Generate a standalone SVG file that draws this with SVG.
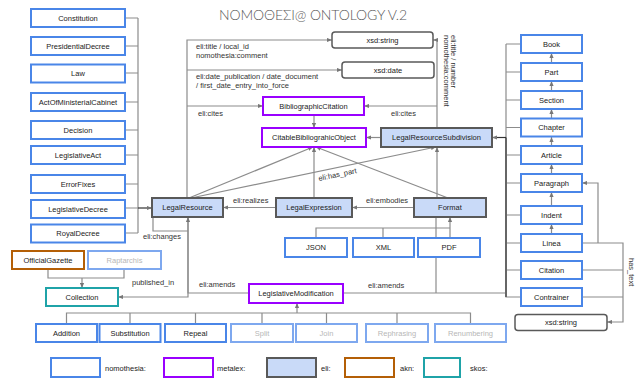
<svg xmlns="http://www.w3.org/2000/svg" width="642" height="379" viewBox="0 0 642 379">
<style>
text{font-family:"Liberation Sans",Arial,sans-serif;font-size:7.5px;fill:#222}
.n rect{fill:#fff;stroke:#4a86e8;stroke-width:2}
.nl rect{fill:#fff;stroke:#7ea8ef;stroke-width:2}
.nl text{fill:#b7b7b7}
.m rect{fill:#fff;stroke:#9900ff;stroke-width:2}
.e rect{fill:#c9daf8;stroke:#595959;stroke-width:2}
.a rect{fill:#fff;stroke:#b45f06;stroke-width:2}
.s rect{fill:#fff;stroke:#1fa3a8;stroke-width:2}
.x rect{fill:#fff;stroke:#595959;stroke-width:1.5}
.c text{text-anchor:middle}
#edges path{fill:none;stroke:#8c8c8c;stroke-width:1.2}
#edges path.d{stroke:#333}
#edges path.k{stroke:#666;stroke-width:2}
.lbl{fill:#333}
</style>
<defs>
<marker id="ar" viewBox="0 0 6 6" refX="6" refY="3" markerWidth="5" markerHeight="5" orient="auto" markerUnits="userSpaceOnUse"><path d="M0,0.5 L6,3 L0,5.5 z" fill="#777"/></marker>
</defs>

<text x="313" y="20" text-anchor="middle" textLength="188" style="font-family:Lato,'Open Sans',sans-serif;font-weight:300;font-size:14px;fill:#595959">ΝΟΜΟΘΕΣΙ@ ONTOLOGY V.2</text>

<g id="edges">
<path d="M125,18H138M125,46H138M125,73H138M125,102H138M125,130H138M125,155H138M125,184H138M125,208H138M125,233H138M138,18V233"/>
<path class="d" d="M138,208H152" marker-end="url(#ar)"/>
<path d="M187,198V40H332" marker-end="url(#ar)"/>
<path d="M187,70H342" marker-end="url(#ar)"/>
<path d="M187,106H263" marker-end="url(#ar)"/>
<path d="M189,198L313,147" marker-end="url(#ar)"/>
<path d="M191,198L436,147" marker-end="url(#ar)"/>
<path d="M314,198V147" marker-end="url(#ar)"/>
<path d="M314,115V128" marker-end="url(#ar)"/>
<path d="M448,198L316,147" marker-end="url(#ar)"/>
<path d="M437,198V147" marker-end="url(#ar)"/>
<path d="M437,128V40H433" marker-end="url(#ar)"/>
<path d="M437,106H364" marker-end="url(#ar)"/>
<path d="M381,137.5H366" marker-end="url(#ar)"/>
<path d="M276,207.5H223" marker-end="url(#ar)"/>
<path d="M414,207.5H352" marker-end="url(#ar)"/>
<path d="M316,238V228H450M383,238V228"/>
<path d="M450,238V217" marker-end="url(#ar)"/>
<path d="M436,217V293"/>
<path d="M188,217V297H118" marker-end="url(#ar)"/>
<path d="M249,293H188V217" marker-end="url(#ar)"/>
<path d="M153,217V231H188"/>
<path d="M48,269V278H124V269"/>
<path d="M82,278V288" marker-end="url(#ar)"/>
<path d="M343,293H506"/>
<path d="M66.5,324V313H470.5V324M130,324V313M195.5,324V313M262,324V313M326.5,324V313M397,324V313"/>
<path d="M297,313V303" marker-end="url(#ar)"/>
<path d="M506,44V297H521M506,44H521M506,72H521M506,100H521M506,127.5H521M506,155H521M506,183H521M506,215H521M506,243H521M506,270H521"/>
<path class="k" d="M506,137.5V297"/>
<path class="d" d="M506,137.5H492" marker-end="url(#ar)"/>
<path d="M551.5,63V53" marker-end="url(#ar)"/>
<path d="M551.5,91V81" marker-end="url(#ar)"/>
<path d="M551.5,118V109" marker-end="url(#ar)"/>
<path d="M551.5,146V137" marker-end="url(#ar)"/>
<path d="M551.5,174V164" marker-end="url(#ar)"/>
<path d="M551.5,206V192" marker-end="url(#ar)"/>
<path d="M551.5,234V224" marker-end="url(#ar)"/>
<path d="M598,243V183H582" marker-end="url(#ar)"/>
<path d="M582,243H623V322H607" marker-end="url(#ar)"/>
<path d="M582,270H623M582,297H623"/>
<text class="lbl" x="196" y="49">eli:title / local_id</text>
<text class="lbl" x="196" y="58">nomothesia:comment</text>
<text class="lbl" x="196" y="79">eli:date_publication / date_document</text>
<text class="lbl" x="196" y="88">/ first_date_entry_into_force</text>
<text class="lbl" x="198" y="116">eli:cites</text>
<text class="lbl" x="391" y="116">eli:cites</text>
<text class="lbl" transform="translate(451,35) rotate(90)">eli:title / number</text>
<text class="lbl" transform="translate(443.5,35) rotate(90)">nomothesia:comment</text>
<text class="lbl" transform="translate(338,177) rotate(-11.6)" text-anchor="middle">eli:has_part</text>
<text class="lbl" x="233" y="203">eli:realizes</text>
<text class="lbl" x="366" y="203">eli:embodies</text>
<text class="lbl" x="143" y="239">eli:changes</text>
<text class="lbl" x="132" y="285">published_in</text>
<text class="lbl" x="199" y="287">eli:amends</text>
<text class="lbl" x="368" y="288">eli:amends</text>
<text class="lbl" transform="translate(629,258) rotate(90)">has_text</text>
</g>

<g id="Constitution" class="n c"><rect x="31" y="9" width="94" height="18"/><text x="78" y="20.7">Constitution</text></g>
<g id="PresidentialDecree" class="n c"><rect x="31" y="37" width="94" height="18"/><text x="78" y="48.7">PresidentialDecree</text></g>
<g id="Law" class="n c"><rect x="31" y="64.5" width="94" height="18"/><text x="78" y="76.2">Law</text></g>
<g id="ActOfMinisterialCabinet" class="n c"><rect x="31" y="93" width="94" height="18"/><text x="78" y="104.7">ActOfMinisterialCabinet</text></g>
<g id="Decision" class="n c"><rect x="31" y="121" width="94" height="18"/><text x="78" y="132.7">Decision</text></g>
<g id="LegislativeAct" class="n c"><rect x="31" y="146" width="94" height="18"/><text x="78" y="157.7">LegislativeAct</text></g>
<g id="ErrorFixes" class="n c"><rect x="31" y="175" width="94" height="18"/><text x="78" y="186.7">ErrorFixes</text></g>
<g id="LegislativeDecree" class="n c"><rect x="31" y="200" width="94" height="18"/><text x="78" y="211.7">LegislativeDecree</text></g>
<g id="RoyalDecree" class="n c"><rect x="31" y="224.5" width="94" height="18"/><text x="78" y="236.2">RoyalDecree</text></g>

<g id="xsd_string" class="x c"><rect x="332" y="32" width="101" height="16" rx="3"/><text x="382.5" y="42.7">xsd:string</text></g>
<g id="xsd_date" class="x c"><rect x="342" y="62" width="92" height="16" rx="3"/><text x="388" y="72.7">xsd:date</text></g>
<g id="xsd_string2" class="x c"><rect x="515" y="314.5" width="92" height="16" rx="3"/><text x="561" y="325.2">xsd:string</text></g>

<g id="BibliographicCitation" class="m c"><rect x="263" y="97" width="101" height="18"/><text x="313.5" y="108.7">BibliographicCitation</text></g>
<g id="CitableBibliograhicObject" class="m c"><rect x="262" y="128" width="104" height="19"/><text x="314" y="140.2">CitableBibliograhicObject</text></g>
<g id="LegalResourceSubdivision" class="e c"><rect x="381" y="128" width="111" height="19"/><text x="436.5" y="140.2">LegalResourceSubdivision</text></g>
<g id="LegalResource" class="e c"><rect x="152" y="198" width="71" height="19"/><text x="187.5" y="210.2">LegalResource</text></g>
<g id="LegalExpression" class="e c"><rect x="276" y="198" width="76" height="19"/><text x="314" y="210.2">LegalExpression</text></g>
<g id="Format" class="e c"><rect x="414" y="198" width="72" height="19"/><text x="450" y="210.2">Format</text></g>
<g id="JSON" class="n c"><rect x="285" y="238" width="62" height="19"/><text x="316" y="250.2">JSON</text></g>
<g id="XML" class="n c"><rect x="353" y="238" width="61" height="19"/><text x="383.5" y="250.2">XML</text></g>
<g id="PDF" class="n c"><rect x="418" y="238" width="62" height="19"/><text x="449" y="250.2">PDF</text></g>

<g id="OfficialGazette" class="a c"><rect x="12" y="251" width="72" height="18"/><text x="48" y="262.7">OfficialGazette</text></g>
<g id="Raptarchis" class="nl c"><rect x="88" y="251" width="73" height="18"/><text x="124.5" y="262.7">Raptarchis</text></g>
<g id="Collection" class="s c"><rect x="46" y="288" width="72" height="18"/><text x="82" y="299.7">Collection</text></g>
<g id="LegislativeModification" class="m c"><rect x="249" y="284" width="94" height="19"/><text x="296" y="296.2">LegislativeModification</text></g>

<g id="Addition" class="n c"><rect x="36" y="324" width="61" height="18"/><text x="66.5" y="335.7">Addition</text></g>
<g id="Substitution" class="n c"><rect x="99.5" y="324" width="61" height="18"/><text x="130" y="335.7">Substitution</text></g>
<g id="Repeal" class="n c"><rect x="165" y="324" width="61" height="18"/><text x="195.5" y="335.7">Repeal</text></g>
<g id="Split" class="nl c"><rect x="231" y="324" width="62" height="18"/><text x="262" y="335.7">Split</text></g>
<g id="Join" class="nl c"><rect x="296" y="324" width="61" height="18"/><text x="326.5" y="335.7">Join</text></g>
<g id="Rephrasing" class="nl c"><rect x="366" y="324" width="62" height="18"/><text x="397" y="335.7">Rephrasing</text></g>
<g id="Renumbering" class="nl c"><rect x="435" y="324" width="71" height="18"/><text x="470.5" y="335.7">Renumbering</text></g>

<g id="Book" class="n c"><rect x="521" y="35" width="61" height="18"/><text x="551.5" y="46.7">Book</text></g>
<g id="Part" class="n c"><rect x="521" y="63" width="61" height="18"/><text x="551.5" y="74.7">Part</text></g>
<g id="Section" class="n c"><rect x="521" y="91" width="61" height="18"/><text x="551.5" y="102.7">Section</text></g>
<g id="Chapter" class="n c"><rect x="521" y="118.5" width="61" height="18"/><text x="551.5" y="130.2">Chapter</text></g>
<g id="Article" class="n c"><rect x="521" y="146" width="61" height="18"/><text x="551.5" y="157.7">Article</text></g>
<g id="Paragraph" class="n c"><rect x="521" y="174" width="61" height="18"/><text x="551.5" y="185.7">Paragraph</text></g>
<g id="Indent" class="n c"><rect x="521" y="206" width="61" height="18"/><text x="551.5" y="217.7">Indent</text></g>
<g id="Linea" class="n c"><rect x="521" y="234" width="61" height="18"/><text x="551.5" y="245.7">Linea</text></g>
<g id="Citation" class="n c"><rect x="521" y="261" width="61" height="18"/><text x="551.5" y="272.7">Citation</text></g>
<g id="Contrainer" class="n c"><rect x="521" y="288" width="61" height="18"/><text x="551.5" y="299.7">Contrainer</text></g>

<g id="legend">
<g class="n"><rect x="51" y="358" width="49" height="19"/></g><text x="105" y="370.5">nomothesia:</text>
<g class="m"><rect x="164" y="358" width="49" height="19"/></g><text x="217" y="370.5">metalex:</text>
<g class="e"><rect x="267" y="358" width="49" height="19"/></g><text x="321" y="370.5">eli:</text>
<g class="a"><rect x="345" y="358" width="49" height="19"/></g><text x="400" y="370.5">akn:</text>
<g class="s"><rect x="424" y="358" width="36" height="19"/></g><text x="470" y="370.5">skos:</text>
</g>
</svg>
